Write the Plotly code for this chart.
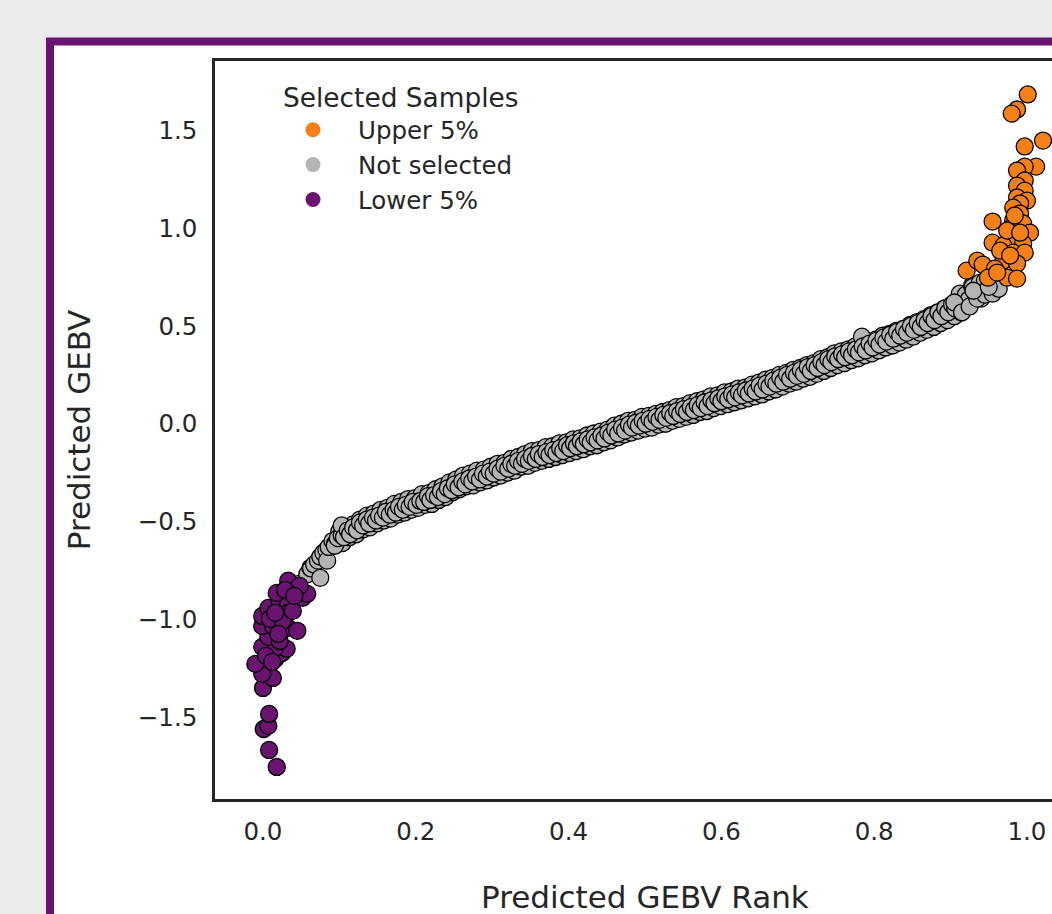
import plotly.graph_objects as go

# ---------------- data ----------------
# "Not selected" samples: core of the band
gray_x = [
    0.046, 0.058, 0.062, 0.063, 0.067, 0.072, 0.075, 0.075, 0.079, 0.083, 0.084, 0.086,
    0.091, 0.094, 0.094, 0.098, 0.103, 0.103, 0.106, 0.111, 0.114, 0.118, 0.123, 0.127,
    0.131, 0.136, 0.139, 0.144, 0.148, 0.152, 0.157, 0.161, 0.166, 0.171, 0.174, 0.178,
    0.183, 0.187, 0.192, 0.196, 0.201, 0.206, 0.211, 0.216, 0.219, 0.224, 0.229, 0.233,
    0.238, 0.242, 0.247, 0.251, 0.256, 0.261, 0.265, 0.270, 0.274, 0.279, 0.284, 0.288,
    0.293, 0.297, 0.302, 0.307, 0.311, 0.316, 0.321, 0.325, 0.330, 0.334, 0.339, 0.343,
    0.348, 0.352, 0.357, 0.361, 0.366, 0.371, 0.375, 0.380, 0.384, 0.389, 0.393, 0.398,
    0.402, 0.407, 0.411, 0.416, 0.420, 0.425, 0.429, 0.434, 0.438, 0.443, 0.447, 0.452,
    0.456, 0.461, 0.465, 0.470, 0.474, 0.479, 0.483, 0.488, 0.492, 0.497, 0.501, 0.506,
    0.510, 0.515, 0.519, 0.524, 0.528, 0.533, 0.537, 0.542, 0.546, 0.551, 0.555, 0.560,
    0.564, 0.569, 0.573, 0.578, 0.582, 0.587, 0.591, 0.596, 0.600, 0.605, 0.609, 0.614,
    0.618, 0.623, 0.627, 0.632, 0.636, 0.641, 0.645, 0.650, 0.654, 0.659, 0.663, 0.668,
    0.672, 0.677, 0.681, 0.686, 0.690, 0.695, 0.699, 0.704, 0.708, 0.713, 0.717, 0.722,
    0.726, 0.731, 0.735, 0.740, 0.744, 0.749, 0.753, 0.758, 0.762, 0.767, 0.771, 0.776,
    0.780, 0.784, 0.785, 0.789, 0.794, 0.798, 0.803, 0.807, 0.812, 0.816, 0.821, 0.825,
    0.830, 0.834, 0.839, 0.843, 0.848, 0.852, 0.857, 0.861, 0.866, 0.870, 0.875, 0.879,
    0.884, 0.888, 0.893, 0.897, 0.902, 0.906, 0.911, 0.912, 0.915, 0.920, 0.924, 0.928,
    0.929, 0.933, 0.938, 0.940, 0.942, 0.945, 0.950, 0.955, 0.905, 0.915, 0.925, 0.935,
    0.945, 0.955, 0.963, 0.930, 0.950,
]
gray_y = [
    -0.820, -0.770, -0.737, -0.740, -0.720, -0.700, -0.788, -0.680, -0.660, -0.645, -0.700, -0.630,
    -0.600, -0.615, -0.624, -0.585, -0.570, -0.520, -0.580, -0.545, -0.565, -0.530, -0.545, -0.505,
    -0.520, -0.490, -0.510, -0.480, -0.495, -0.470, -0.480, -0.450, -0.465, -0.440, -0.455, -0.425,
    -0.440, -0.415, -0.425, -0.400, -0.415, -0.395, -0.400, -0.370, -0.390, -0.365, -0.375, -0.345,
    -0.360, -0.330, -0.340, -0.310, -0.325, -0.295, -0.310, -0.280, -0.295, -0.270, -0.285, -0.255,
    -0.270, -0.245, -0.255, -0.230, -0.245, -0.215, -0.230, -0.205, -0.215, -0.190, -0.205, -0.180,
    -0.190, -0.165, -0.180, -0.155, -0.170, -0.145, -0.160, -0.135, -0.150, -0.125, -0.140, -0.110,
    -0.125, -0.100, -0.115, -0.090, -0.105, -0.080, -0.095, -0.070, -0.085, -0.060, -0.075, -0.045,
    -0.060, -0.030, -0.050, -0.020, -0.035, -0.005, -0.020, 0.005, -0.010, 0.015, 0.000, 0.025,
    0.010, 0.035, 0.020, 0.045, 0.030, 0.055, 0.040, 0.065, 0.050, 0.075, 0.060, 0.085,
    0.070, 0.095, 0.080, 0.110, 0.090, 0.120, 0.105, 0.130, 0.115, 0.140, 0.125, 0.150,
    0.135, 0.160, 0.145, 0.170, 0.155, 0.180, 0.165, 0.195, 0.175, 0.205, 0.190, 0.220,
    0.205, 0.235, 0.215, 0.250, 0.230, 0.260, 0.245, 0.275, 0.255, 0.290, 0.270, 0.300,
    0.285, 0.315, 0.300, 0.330, 0.315, 0.345, 0.330, 0.355, 0.340, 0.370, 0.350, 0.380,
    0.365, 0.445, 0.395, 0.375, 0.410, 0.390, 0.425, 0.405, 0.440, 0.420, 0.455, 0.435,
    0.470, 0.450, 0.485, 0.465, 0.500, 0.480, 0.515, 0.495, 0.530, 0.515, 0.550, 0.530,
    0.570, 0.550, 0.590, 0.570, 0.610, 0.590, 0.635, 0.665, 0.610, 0.660, 0.635, 0.706,
    0.700, 0.665, 0.720, 0.640, 0.690, 0.732, 0.690, 0.720, 0.620, 0.570, 0.600, 0.640,
    0.660, 0.665, 0.690, 0.680, 0.700,
]
# "Not selected" samples: upper edge of the band
gray_hi_x = [
    0.100, 0.109, 0.118, 0.127, 0.136, 0.145, 0.154, 0.163, 0.172, 0.181, 0.190, 0.199,
    0.208, 0.217, 0.226, 0.235, 0.244, 0.253, 0.262, 0.271, 0.280, 0.289, 0.298, 0.307,
    0.316, 0.325, 0.334, 0.343, 0.352, 0.361, 0.370, 0.379, 0.388, 0.397, 0.406, 0.415,
    0.424, 0.433, 0.442, 0.451, 0.460, 0.469, 0.478, 0.487, 0.496, 0.505, 0.514, 0.523,
    0.532, 0.541, 0.550, 0.559, 0.568, 0.577, 0.586, 0.595, 0.604, 0.613, 0.622, 0.631,
    0.640, 0.649, 0.658, 0.667, 0.676, 0.685, 0.694, 0.703, 0.712, 0.721, 0.730, 0.739,
    0.748, 0.757, 0.766, 0.775, 0.784, 0.793, 0.802, 0.811, 0.820, 0.829, 0.838, 0.847,
    0.856, 0.865, 0.874, 0.883, 0.892, 0.901, 0.910, 0.919,
]
gray_hi_y = [
    -0.550, -0.530, -0.515, -0.490, -0.470, -0.460, -0.440, -0.430, -0.410, -0.400, -0.385, -0.380,
    -0.360, -0.355, -0.335, -0.320, -0.300, -0.285, -0.265, -0.255, -0.240, -0.235, -0.220, -0.205,
    -0.200, -0.180, -0.170, -0.155, -0.140, -0.135, -0.120, -0.115, -0.100, -0.095, -0.080, -0.075,
    -0.060, -0.050, -0.040, -0.030, -0.010, 0.000, 0.015, 0.020, 0.035, 0.040, 0.050, 0.060,
    0.070, 0.085, 0.090, 0.105, 0.115, 0.125, 0.140, 0.145, 0.160, 0.165, 0.180, 0.185,
    0.200, 0.210, 0.225, 0.235, 0.250, 0.260, 0.275, 0.285, 0.300, 0.310, 0.330, 0.340,
    0.360, 0.370, 0.380, 0.395, 0.405, 0.420, 0.430, 0.450, 0.460, 0.475, 0.485, 0.505,
    0.520, 0.535, 0.555, 0.570, 0.590, 0.605, 0.625, 0.645,
]
# "Not selected" samples: lower edge of the band
gray_lo_x = [
    0.104, 0.113, 0.122, 0.131, 0.140, 0.149, 0.158, 0.167, 0.176, 0.185, 0.194, 0.203,
    0.212, 0.221, 0.230, 0.239, 0.248, 0.257, 0.266, 0.275, 0.284, 0.293, 0.302, 0.311,
    0.320, 0.329, 0.338, 0.347, 0.356, 0.365, 0.374, 0.383, 0.392, 0.401, 0.410, 0.419,
    0.428, 0.437, 0.446, 0.455, 0.464, 0.473, 0.482, 0.491, 0.500, 0.509, 0.518, 0.527,
    0.536, 0.545, 0.554, 0.563, 0.572, 0.581, 0.590, 0.599, 0.608, 0.617, 0.626, 0.635,
    0.644, 0.653, 0.662, 0.671, 0.680, 0.689, 0.698, 0.707, 0.716, 0.725, 0.734, 0.743,
    0.752, 0.761, 0.770, 0.779, 0.788, 0.797, 0.806, 0.815, 0.824, 0.833, 0.842, 0.851,
    0.860, 0.869, 0.878, 0.887, 0.896, 0.905, 0.914,
]
gray_lo_y = [
    -0.610, -0.580, -0.565, -0.540, -0.530, -0.510, -0.495, -0.485, -0.465, -0.455, -0.440, -0.430,
    -0.415, -0.410, -0.390, -0.375, -0.350, -0.335, -0.320, -0.315, -0.300, -0.290, -0.275, -0.265,
    -0.250, -0.240, -0.220, -0.215, -0.200, -0.190, -0.180, -0.170, -0.160, -0.150, -0.140, -0.130,
    -0.115, -0.110, -0.095, -0.085, -0.070, -0.055, -0.045, -0.035, -0.025, -0.020, -0.005, 0.000,
    0.015, 0.025, 0.035, 0.045, 0.060, 0.065, 0.080, 0.090, 0.100, 0.110, 0.120, 0.130,
    0.140, 0.150, 0.165, 0.175, 0.190, 0.205, 0.215, 0.230, 0.240, 0.255, 0.270, 0.285,
    0.300, 0.310, 0.325, 0.335, 0.350, 0.360, 0.375, 0.390, 0.400, 0.415, 0.430, 0.445,
    0.465, 0.480, 0.495, 0.515, 0.530, 0.550, 0.570,
]

upper_x = [
    1.001, 0.987, 0.980, 1.021, 0.997, 1.012, 0.997, 0.987, 0.997, 0.987, 0.997, 0.987,
    1.000, 0.991, 0.982, 0.991, 0.955, 0.982, 0.995, 1.004, 0.978, 0.987, 0.955, 0.969,
    0.995, 0.982, 0.997, 0.969, 0.987, 0.921, 0.935, 0.942, 0.958, 0.974, 0.987, 0.949,
    0.961, 0.974, 0.965, 0.978, 0.991, 0.984,
]
upper_y = [
    1.684, 1.607, 1.586, 1.448, 1.418, 1.315, 1.315, 1.295, 1.244, 1.218, 1.192, 1.157,
    1.141, 1.126, 1.105, 1.075, 1.034, 1.039, 1.024, 0.977, 0.998, 0.926, 0.926, 0.911,
    0.921, 0.875, 0.875, 0.834, 0.819, 0.783, 0.834, 0.814, 0.793, 0.747, 0.742, 0.747,
    0.773, 0.988, 0.885, 0.860, 0.977, 1.065,
]

lower_x = [
    0.018, 0.008, 0.001, 0.007, 0.008, 0.000, 0.013, -0.001, -0.010, 0.016, 0.025, 0.031,
    -0.001, 0.016, 0.007, 0.022, -0.001, 0.013, 0.033, 0.045, -0.001, 0.007, 0.022, 0.033,
    0.033, 0.018, 0.035, 0.033, 0.052, 0.058, 0.048, 0.009, 0.026, 0.039, 0.016, 0.029,
    0.041, 0.020, 0.004, 0.012,
]
lower_y = [
    -1.755, -1.668, -1.561, -1.545, -1.484, -1.351, -1.300, -1.279, -1.228, -1.203, -1.172, -1.151,
    -1.141, -1.146, -1.090, -1.111, -1.034, -1.034, -1.044, -1.059, -0.983, -0.942, -0.906, -0.921,
    -0.967, -0.865, -0.839, -0.803, -0.890, -0.870, -0.829, -0.998, -1.008, -0.957, -0.967, -0.850,
    -0.880, -1.075, -1.187, -1.218,
]

legend_names = ["Upper 5%", "Not selected", "Lower 5%"]
colors = {"Upper 5%": "#f58018", "Not selected": "#b4b4b4", "Lower 5%": "#69146e"}

# ---------------- figure ----------------
FONT = "DejaVu Sans"
TXT = "#262626"
W, H = 1052, 914
ML, MR, MT, MB = 215, 0, 61, 115
PW, PH = W - ML - MR, H - MT - MB


def px_to_paper_x(px):
    return (px - ML) / PW


def py_to_paper_y(py):
    return (H - MB - py) / PH


fig = go.Figure()

all_gray_x = gray_lo_x + gray_hi_x + gray_x
all_gray_y = gray_lo_y + gray_hi_y + gray_y

series = [
    ("Not selected", all_gray_x, all_gray_y),
    ("Upper 5%", upper_x, upper_y),
    ("Lower 5%", lower_x, lower_y),
]
for name, xs, ys in series:
    fig.add_trace(go.Scatter(
        x=xs, y=ys, mode="markers", name=name, showlegend=False,
        marker=dict(size=17, color=colors[name], line=dict(color="black", width=1.3)),
    ))

# legend-only entries (legend markers have no outline)
for name in legend_names:
    fig.add_trace(go.Scatter(
        x=[None], y=[None], mode="markers", name=name,
        marker=dict(size=15, color=colors[name]),
    ))

# outer white panel with purple border (extends beyond the window)
fig.add_shape(
    type="rect", xref="paper", yref="paper", layer="below",
    x0=px_to_paper_x(50), x1=px_to_paper_x(1300),
    y0=py_to_paper_y(1200), y1=py_to_paper_y(41.5),
    line=dict(color="#69146e", width=8), fillcolor="white",
)

fig.add_annotation(
    text="Predicted GEBV Rank", xref="x", yref="paper",
    x=0.5, y=py_to_paper_y(897), xanchor="center", yanchor="middle",
    showarrow=False, font=dict(family=FONT, size=31, color=TXT),
)

fig.update_layout(
    width=W, height=H,
    margin=dict(l=ML, r=MR, t=MT, b=MB, autoexpand=False),
    paper_bgcolor="#ebebeb", plot_bgcolor="white",
    font=dict(family=FONT, size=24.5, color=TXT),
    showlegend=True,
    legend=dict(
        x=px_to_paper_x(281), y=py_to_paper_y(73), xanchor="left", yanchor="top",
        bgcolor="rgba(0,0,0,0)", borderwidth=0,
        title=dict(text="Selected Samples", font=dict(family=FONT, size=26.4, color=TXT)),
        font=dict(family=FONT, size=24.5, color=TXT),
        itemwidth=80, indentation=-13, tracegroupgap=0,
    ),
)

fig.update_xaxes(
    range=[-0.0628, -0.0628 + PW / 764.0],
    tickvals=[0.0, 0.2, 0.4, 0.6, 0.8, 1.0], tickformat=".1f",
    showgrid=False, zeroline=False, ticks="",
    showline=True, linecolor=TXT, linewidth=2.5, mirror=True,
    tickfont=dict(family=FONT, size=24.5, color=TXT),
    ticklabelstandoff=9,
)
fig.update_yaxes(
    range=[-1.919, 1.855],
    tickvals=[-1.5, -1.0, -0.5, 0.0, 0.5, 1.0, 1.5], tickformat=".1f",
    showgrid=False, zeroline=False, ticks="",
    showline=True, linecolor=TXT, linewidth=2.5, mirror=False,
    tickfont=dict(family=FONT, size=24.5, color=TXT),
    ticklabelstandoff=10,
    title=dict(text="Predicted GEBV", font=dict(family=FONT, size=31, color=TXT), standoff=38),
)

fig.write_html(
    "out.html",
    config={"displayModeBar": False},
    post_script="document.body.style.margin='0px';",
)
